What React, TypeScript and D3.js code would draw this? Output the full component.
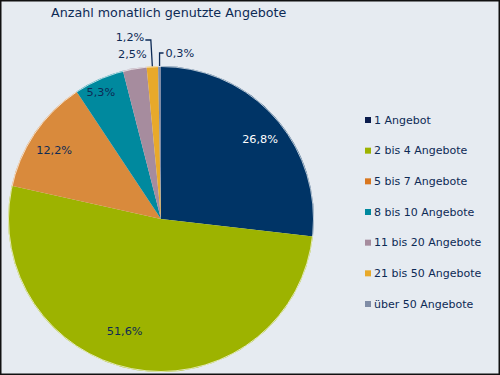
import React from "react";
import * as d3 from "d3";

const title = "Anzahl monatlich genutzte Angebote";
const categories = [
  "1 Angebot",
  "2 bis 4 Angebote",
  "5 bis 7 Angebote",
  "8 bis 10 Angebote",
  "11 bis 20 Angebote",
  "21 bis 50 Angebote",
  "über 50 Angebote",
];
const values = [26.8, 51.6, 12.2, 5.3, 2.5, 1.2, 0.3];
const labels = ["26,8%", "51,6%", "12,2%", "5,3%", "2,5%", "1,2%", "0,3%"];
const colors = ["#003466", "#9db300", "#d98a3c", "#00899e", "#a68c9e", "#e8a92a", "#7f8ca6"];
const legendColors = ["#0b1c4c", "#9db300", "#d9771f", "#00899e", "#a68c9e", "#e8a92a", "#7f8ca6"];
// label placement: "in" inside at radius fraction, "out" outside, "lead" with leader line
const labelMode = ["in", "in", "in", "in", "out", "leadL", "leadR"];
const labelRadius = [0.83, 0.775, 0.83, 0.915, 1.09, 1.0, 1.0];
const labelAngleShift = [3, 8.3, -1.8, -1.5, 0, 0, 0];

const W = 500;
const H = 375;
const cx = 161;
const cy = 219;
const R = 153;
const font = "'DejaVu Sans', Verdana, sans-serif";
const textColor = "#0d2a55";

export default function App() {
  const pie = d3.pie<number>().sort(null).value((d) => d)(values);
  const arc = d3.arc<d3.PieArcDatum<number>>().innerRadius(0).outerRadius(R);
  const legendY = d3.scalePoint<string>().domain(categories).range([120, 304]);

  const pt = (a: number, r: number) => [Math.sin(a) * r, -Math.cos(a) * r];

  return (
    <svg
      width={W}
      height={H}
      style={{ position: "absolute", left: 0, top: 0, display: "block" }}
    >
      <rect x={0} y={0} width={W} height={H} fill="#e6ebf1" />
      <rect x={0.75} y={0.75} width={W - 1.5} height={H - 1.5} fill="none" stroke="#111" strokeWidth={1.5} />
      <text x={51} y={17} fontFamily={font} fontSize={12.7} fill={textColor}>
        {title}
      </text>
      <g transform={`translate(${cx},${cy})`}>
        {pie.map((d, i) => (
          <path key={i} d={arc(d) || ""} fill={colors[i]} />
        ))}
        <circle r={R - 0.5} fill="none" stroke="#ffffff" strokeOpacity={0.7} strokeWidth={1} />
        {pie.map((d, i) => {
          const mid = (d.startAngle + d.endAngle) / 2 + (labelAngleShift[i] * Math.PI) / 180;
          const mode = labelMode[i];
          if (mode === "in" || mode === "out") {
            const [x, y] = pt(mid, R * labelRadius[i]);
            return (
              <text
                key={i}
                x={x}
                y={y}
                textAnchor="middle"
                dominantBaseline="central"
                fontFamily={font}
                fontSize={11.3}
                fill={i === 0 ? "#ffffff" : textColor}
              >
                {labels[i]}
              </text>
            );
          }
          const [ex, ey] = pt(mid, R);
          if (mode === "leadL") {
            const topY = -R - 26;
            return (
              <g key={i}>
                <path
                  d={`M${ex},${ey} L${ex - 1.5},${topY} L${ex - 7},${topY}`}
                  fill="none"
                  stroke={textColor}
                  strokeWidth={1.3}
                />
                <text
                  x={ex - 8}
                  y={topY - 3}
                  textAnchor="end"
                  dominantBaseline="central"
                  fontFamily={font}
                  fontSize={11.3}
                  fill={textColor}
                >
                  {labels[i]}
                </text>
              </g>
            );
          }
          const topY = -R - 13;
          return (
            <g key={i}>
              <path
                d={`M${ex},${ey} L${ex},${topY} L${ex + 4},${topY}`}
                fill="none"
                stroke={textColor}
                strokeWidth={1.3}
              />
              <text
                x={ex + 6}
                y={topY}
                textAnchor="start"
                dominantBaseline="central"
                fontFamily={font}
                fontSize={11.3}
                fill={textColor}
              >
                {labels[i]}
              </text>
            </g>
          );
        })}
      </g>
      <g>
        {categories.map((c, i) => {
          const y = legendY(c) as number;
          return (
            <g key={c}>
              <rect x={365} y={y - 3} width={6} height={6} fill={legendColors[i]} />
              <text
                x={374}
                y={y}
                dominantBaseline="central"
                fontFamily={font}
                fontSize={11}
                fill={textColor}
              >
                {c}
              </text>
            </g>
          );
        })}
      </g>
    </svg>
  );
}
